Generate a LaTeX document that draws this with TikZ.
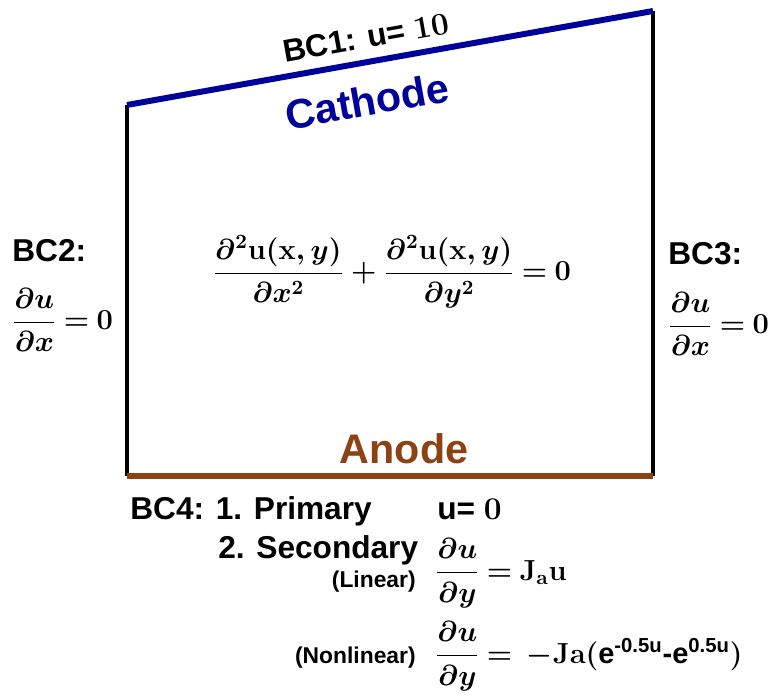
\RequirePackage{fix-cm}
\documentclass[tikz,border=0pt]{standalone}
\usepackage{amsmath,amssymb,bm}
\usepackage[no-math]{fontspec}
\setmainfont{Liberation Sans}
\usepackage{xcolor}
\usepackage{tikz}
\definecolor{cathodeblue}{RGB}{0,0,155}
\definecolor{anodebrown}{RGB}{140,66,18}
\newcommand{\eqfont}{\fontsize{16.5}{20}\selectfont\boldmath\thickmuskip=4mu\relax}
\tikzset{
  wall/.style={draw=black, line width=2pt},
  cathode/.style={draw=cathodeblue, line width=3.4pt},
  anode/.style={draw=anodebrown, line width=3pt},
  lbl/.style={inner sep=0pt, font=\fontsize{18}{21}\selectfont\bfseries\boldmath},
  tiny/.style={inner sep=0pt, font=\fontsize{13}{15}\selectfont\bfseries},
  title/.style={inner sep=0pt, font=\fontsize{23.5}{28}\selectfont\bfseries},
  eq/.style={inner sep=0pt, font=\eqfont},
}
\newcommand{\pd}{\partial}

\begin{document}
\begin{tikzpicture}[x=0.02cm, y=-0.02cm]
  \useasboundingbox (0,0) rectangle (773,696);
  \coordinate (TL) at (127,105);
  \coordinate (TR) at (653,11);
  \coordinate (BL) at (127,476);
  \coordinate (BR) at (653,476);
  \draw[wall] (TL) -- (BL);
  \draw[wall] (TR) -- (BR);
  \draw[cathode] (TL) -- (TR);
  \draw[anode] (BL) -- (BR);
  \node[lbl, rotate=10.1]                  (bc1)  at (366,37)  {BC1: u= $\mathbf{10}$};
  \node[title, text=cathodeblue, rotate=10.1] (cath) at (367,101) {Cathode};
  \node[title, text=anodebrown]            (anod) at (404,449) {Anode};
  \node[eq] (pde) at (392,272)
    {$\dfrac{\pd^2\mathbf{u}(\mathbf{x},y)}{\pd x^2}
      + \dfrac{\pd^2\mathbf{u}(\mathbf{x},y)}{\pd y^2} = \mathbf{0}$};
  \node[lbl, anchor=west] (bc2)   at (12,251)  {BC2:};
  \node[eq,  anchor=west] (bc2eq) at (12,320)  {$\dfrac{\pd u}{\pd x} = \mathbf{0}$};
  \node[lbl, anchor=west] (bc3)   at (668,254) {BC3:};
  \node[eq,  anchor=west] (bc3eq) at (668,324) {$\dfrac{\pd u}{\pd x} = \mathbf{0}$};
  \node[lbl, anchor=base west] (bc4a) at (130,519) {BC4: 1. Primary};
  \node[lbl, anchor=base west] (prim) at (437,519) {u= $\mathbf{0}$};
  \node[lbl, anchor=base west] (bc4b) at (218,558) {2. Secondary};
  \node[tiny, anchor=east] (lin)    at (416,582) {(Linear)};
  \node[eq,   anchor=west] (lineq)  at (435,573) {$\dfrac{\pd u}{\pd y} = \mathbf{J_a u}$};
  \node[tiny, anchor=east] (nonlin) at (416,658) {(Nonlinear)};
  \node[eq,   anchor=west] (nlineq) at (435,656)
    {$\dfrac{\pd u}{\pd y} = \;-\mathbf{Ja}(\text{\bfseries e}^{\text{\bfseries -0.5u}}\text{\bfseries -e}^{\text{\bfseries 0.5u}}\mathbf{)}$};
\end{tikzpicture}
\end{document}
